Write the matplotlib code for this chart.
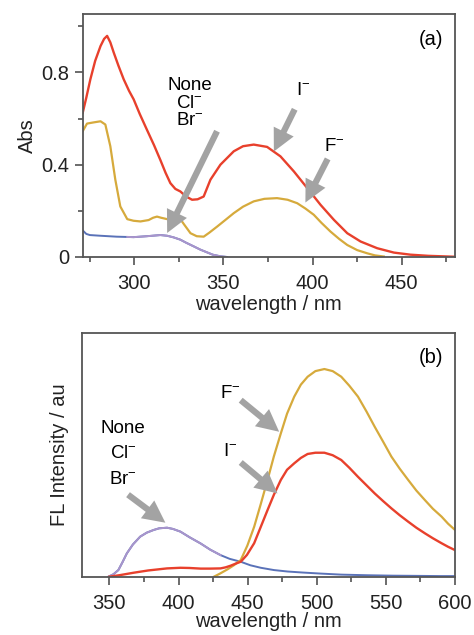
import matplotlib
matplotlib.use("Agg")
import matplotlib.pyplot as plt

plt.rcParams['font.family'] = ['Liberation Sans', 'DejaVu Sans']
plt.rcParams['mathtext.fontset'] = 'custom'
plt.rcParams['mathtext.rm'] = 'Liberation Sans'
plt.rcParams['mathtext.it'] = 'Liberation Sans'

# ---------- panel (a): absorption ----------
abs_I_x = [271, 273, 275.3, 278, 281, 283, 284.7, 286.5, 288.4, 291, 294, 297, 299.6, 303, 307, 311, 314.6, 317.5, 320.2, 323, 325.8, 329, 332.4, 335.5, 338.9, 342.7, 348.3, 355.8, 361, 367, 374.5, 382, 389.5, 397, 404.5, 412, 419.5, 427, 436.3, 445.7, 455, 465, 480]
abs_I_y = [0.625, 0.69, 0.77, 0.85, 0.914, 0.945, 0.958, 0.93, 0.886, 0.83, 0.77, 0.72, 0.683, 0.62, 0.552, 0.485, 0.42, 0.365, 0.32, 0.295, 0.284, 0.262, 0.248, 0.25, 0.262, 0.335, 0.40, 0.458, 0.48, 0.487, 0.477, 0.436, 0.371, 0.299, 0.226, 0.161, 0.103, 0.067, 0.038, 0.019, 0.01, 0.005, 0.001]
abs_F_x = [271, 273.4, 277, 281, 283.7, 286.5, 289.3, 292.1, 296, 299.5, 303.4, 308, 310.5, 312.7, 315, 318.4, 322, 325.8, 328, 331.5, 335, 338.9, 342, 346.5, 351, 355.8, 361, 367, 373, 380.1, 386, 391.4, 396, 400.7, 405, 410.1, 415, 419.5, 425, 430.7, 435, 440]
abs_F_y = [0.545, 0.578, 0.583, 0.588, 0.574, 0.48, 0.335, 0.219, 0.164, 0.157, 0.154, 0.16, 0.17, 0.175, 0.17, 0.164, 0.165, 0.164, 0.14, 0.103, 0.09, 0.088, 0.105, 0.132, 0.16, 0.19, 0.218, 0.241, 0.252, 0.255, 0.248, 0.233, 0.21, 0.183, 0.148, 0.11, 0.078, 0.052, 0.03, 0.016, 0.007, 0.002]
abs_none_x = [271, 273, 275, 281, 290, 299.6, 307, 314.6, 318.4, 322, 325.8, 329, 333.3, 337, 340.8, 344, 348.3, 352]
abs_none_y = [0.115, 0.1, 0.095, 0.092, 0.088, 0.086, 0.09, 0.095, 0.092, 0.085, 0.075, 0.062, 0.046, 0.032, 0.02, 0.01, 0.003, 0.0]
abs_clbr_x = [296, 299.6, 307, 314.6, 318.4, 322, 325.8, 329, 333.3, 337, 340.8, 344, 348.3, 352]
abs_clbr_y = [0.087, 0.086, 0.09, 0.095, 0.092, 0.085, 0.075, 0.062, 0.046, 0.032, 0.02, 0.01, 0.003, 0.0]

# ---------- panel (b): fluorescence ----------
fl_F_x = [425.6, 430, 435.3, 440, 445, 449.8, 454.7, 459.5, 464.4, 469, 474, 478.5, 483.7, 488.5, 493.4, 499, 505.5, 511.5, 517.7, 523.5, 529.8, 536, 541.9, 548, 554, 560, 566.1, 572, 578.2, 584, 590.3, 595, 600]
fl_F_y = [0.0, 0.015, 0.035, 0.055, 0.08, 0.15, 0.24, 0.35, 0.466, 0.58, 0.69, 0.785, 0.867, 0.925, 0.963, 0.99, 1.0, 0.99, 0.963, 0.92, 0.867, 0.795, 0.722, 0.65, 0.578, 0.52, 0.466, 0.415, 0.369, 0.327, 0.289, 0.255, 0.225]
fl_I_x = [350, 358, 367.4, 378, 391.7, 401.4, 408, 416, 423, 430.4, 434, 437.7, 441, 445, 449.5, 454.7, 459.5, 464.4, 469, 474, 478.5, 483.7, 488.5, 493.4, 499, 505.5, 511.5, 517.7, 523.5, 529.8, 536, 541.9, 548, 554, 560, 566.1, 572, 578.2, 584, 590.3, 595, 600]
fl_I_y = [0.0, 0.008, 0.019, 0.03, 0.04, 0.043, 0.042, 0.039, 0.039, 0.04, 0.045, 0.053, 0.062, 0.072, 0.105, 0.161, 0.24, 0.321, 0.395, 0.466, 0.515, 0.546, 0.572, 0.591, 0.597, 0.597, 0.585, 0.562, 0.525, 0.481, 0.44, 0.401, 0.364, 0.329, 0.296, 0.265, 0.236, 0.209, 0.185, 0.161, 0.144, 0.128]
fl_none_x = [349.3, 353, 356.5, 359.5, 362.6, 367, 372.3, 377, 382, 386, 391.7, 396, 401.4, 408, 416, 423, 430.4, 437, 445, 452, 459.5, 469, 478.9, 490, 503, 517.7, 537, 555, 573.3, 590, 600]
fl_none_y = [0.0, 0.012, 0.032, 0.07, 0.112, 0.155, 0.193, 0.212, 0.225, 0.233, 0.236, 0.23, 0.217, 0.19, 0.16, 0.13, 0.104, 0.086, 0.072, 0.055, 0.043, 0.032, 0.025, 0.02, 0.015, 0.01, 0.007, 0.005, 0.004, 0.003, 0.003]
fl_clbr_x = [349.3, 353, 356.5, 359.5, 362.6, 367, 372.3, 377, 382, 386, 391.7, 396, 401.4, 408, 416, 423, 430.4]
fl_clbr_y = [0.0, 0.012, 0.032, 0.07, 0.112, 0.155, 0.193, 0.212, 0.225, 0.233, 0.236, 0.23, 0.217, 0.19, 0.16, 0.13, 0.104]

RED = '#e8402c'
GOLD = '#d6aa3c'
LAV = '#a995cc'
BLUE = '#5a72b8'
ARROW = '#a3a3a3'
FS_TICK = 14.5
FS_LAB = 14.5
FS_ANN = 13.5

fig = plt.figure(figsize=(4.74, 6.35), dpi=100)
axa = fig.add_axes([0.1745, 0.5953, 0.7855, 0.3827])
axb = fig.add_axes([0.1724, 0.0918, 0.7876, 0.3833])

def style(ax):
    for s in ax.spines.values():
        s.set_color('#555555')
        s.set_linewidth(1.3)
    ax.tick_params(which='major', direction='out', length=6, width=1.1, colors='#444444',
                   labelsize=FS_TICK, labelcolor='#222222')
    ax.tick_params(which='minor', direction='out', length=3.4, width=1.1, colors='#444444')
    ax.tick_params(axis='x', which='major', pad=6.5)
    ax.tick_params(axis='y', which='major', pad=3.5)

def arrow(ax, tail, tip):
    ax.annotate('', xy=tip, xytext=tail,
                arrowprops=dict(arrowstyle='simple,head_length=1.0,head_width=1.0,tail_width=0.28',
                                color=ARROW, lw=0, shrinkA=0, shrinkB=0, mutation_scale=16))

# panel a
axa.plot(abs_none_x, abs_none_y, color=BLUE, lw=1.4)
axa.plot(abs_clbr_x, abs_clbr_y, color=LAV, lw=1.4)
axa.plot(abs_F_x, abs_F_y, color=GOLD, lw=1.6)
axa.plot(abs_I_x, abs_I_y, color=RED, lw=1.7)
axa.set_xlim(271, 480)
axa.set_ylim(0, 1.053)
axa.set_xticks([300, 350, 400, 450])
axa.set_xticks([275, 325, 375, 425, 475], minor=True)
axa.set_yticks([0, 0.4, 0.8])
axa.set_yticklabels(['0', '0.4', '0.8'])
axa.set_yticks([0.2, 0.6, 1.0], minor=True)
axa.set_xlabel('wavelength / nm', fontsize=FS_LAB, labelpad=1, color='#222222')
axa.set_ylabel('Abs', fontsize=FS_LAB, labelpad=3, color='#222222')
style(axa)
axa.text(0.968, 0.893, '(a)', transform=axa.transAxes, ha='right', va='center', fontsize=FS_LAB)
axa.text(331, 0.745, 'None', ha='center', va='center', fontsize=FS_ANN)
axa.text(331, 0.665, 'Cl$^{-}$', ha='center', va='center', fontsize=FS_ANN)
axa.text(331, 0.59, 'Br$^{-}$', ha='center', va='center', fontsize=FS_ANN)
arrow(axa, (346.4, 0.545), (318.4, 0.104))
axa.text(395, 0.72, 'I$^{-}$', ha='center', va='center', fontsize=FS_ANN)
arrow(axa, (390, 0.64), (378.3, 0.457))
axa.text(412, 0.48, 'F$^{-}$', ha='center', va='center', fontsize=FS_ANN)
arrow(axa, (408.5, 0.425), (396, 0.236))

# panel b
axb.plot(fl_none_x, fl_none_y, color=BLUE, lw=1.4)
axb.plot(fl_clbr_x, fl_clbr_y, color=LAV, lw=1.4)
axb.plot(fl_F_x, fl_F_y, color=GOLD, lw=1.6)
axb.plot(fl_I_x, fl_I_y, color=RED, lw=1.7)
axb.set_xlim(330, 600)
axb.set_ylim(0, 1.172)
axb.set_xticks([350, 400, 450, 500, 550, 600])
axb.set_xticks([375, 425, 475, 525, 575], minor=True)
axb.set_yticks([])
axb.set_xlabel('wavelength / nm', fontsize=FS_LAB, labelpad=-1, color='#222222')
axb.set_ylabel('FL Intensity / au', fontsize=FS_LAB, labelpad=9, color='#222222')
style(axb)
axb.text(0.968, 0.9, '(b)', transform=axb.transAxes, ha='right', va='center', fontsize=FS_LAB)
axb.text(360, 0.714, 'None', ha='center', va='center', fontsize=FS_ANN)
axb.text(360, 0.594, 'Cl$^{-}$', ha='center', va='center', fontsize=FS_ANN)
axb.text(360, 0.47, 'Br$^{-}$', ha='center', va='center', fontsize=FS_ANN)
arrow(axb, (363.5, 0.395), (390.5, 0.26))
axb.text(437.7, 0.883, 'F$^{-}$', ha='center', va='center', fontsize=FS_ANN)
arrow(axb, (445, 0.85), (472.8, 0.698))
axb.text(437.7, 0.602, 'I$^{-}$', ha='center', va='center', fontsize=FS_ANN)
arrow(axb, (445, 0.55), (471.6, 0.401))

fig.savefig('out.png', dpi=100)
